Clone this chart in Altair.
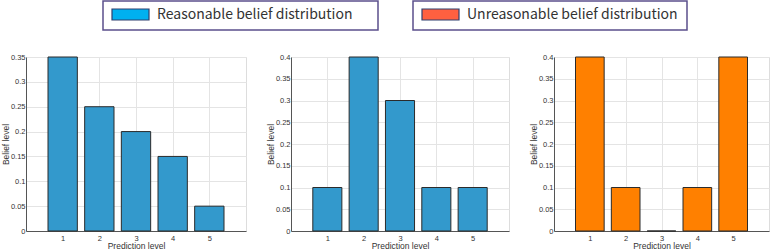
import altair as alt
import pandas as pd

# Prediction levels on the x axis
levels = [1, 2, 3, 4, 5]

# Belief levels for each of the three distributions
reasonable_a = [0.35, 0.25, 0.20, 0.15, 0.05]
reasonable_b = [0.10, 0.40, 0.30, 0.10, 0.10]
unreasonable = [0.40, 0.10, 0.00, 0.10, 0.40]

# Legend entries
legend_labels = ["Reasonable belief distribution", "Unreasonable belief distribution"]

BLUE = "#3399cc"
ORANGE = "#ff8000"
FONT = "Liberation Sans"

AXIS_STYLE = dict(
    labelFontSize=7.5,
    titleFontSize=8.5,
    titleFontWeight="normal",
    labelColor="#333333",
    titleColor="#333333",
    ticks=False,
    grid=True,
    gridColor="#e4e4e4",
    domainColor="#555555",
    minExtent=0,
    labelExpr="datum.value + ''",
)


def panel(values, color, ymax, width, height):
    df = pd.DataFrame({"level": levels, "belief": values})
    base = alt.Chart(df).transform_calculate(
        lo="datum.level - 0.4", hi="datum.level + 0.4"
    )
    x = alt.X(
        "lo:Q",
        scale=alt.Scale(domain=[0, 6], nice=False, zero=False),
        axis=alt.Axis(
            values=levels, title="Prediction level",
            labelPadding=3, titlePadding=0, **AXIS_STYLE
        ),
    )
    y = alt.Y(
        "belief:Q",
        scale=alt.Scale(domain=[0, ymax], nice=False),
        axis=alt.Axis(
            values=[round(v * 0.05, 2) for v in range(int(round(ymax / 0.05)) + 1)],
            title="Belief level", labelPadding=1, titlePadding=0, **AXIS_STYLE
        ),
    )
    return (
        base.mark_bar(fill=color, stroke="#2b2b2b", strokeWidth=1)
        .encode(x=x, x2="hi:Q", y=y, y2=alt.datum(0))
        .properties(width=width, height=height)
    )


# Boxed legend strip along the top (offsets relative to the first plot's left edge)
legend_df = pd.DataFrame({"label": legend_labels})
box_specs = [
    (legend_labels[0], 77, 352, "#00b0f0"),
    (legend_labels[1], 387, 661, "#ff6040"),
]
legend_layers = []
for label, left, right, swatch in box_specs:
    one = alt.Chart(legend_df).transform_filter(alt.datum.label == label)
    legend_layers.append(
        one.mark_rect(fill="white", stroke="#5b4f8c", strokeWidth=1.5).encode(
            x=alt.value(left), x2=alt.value(right), y=alt.value(1), y2=alt.value(30)
        )
    )
    legend_layers.append(
        one.mark_rect(fill=swatch, stroke="#2f3f6f", strokeWidth=1.2).encode(
            x=alt.value(left + 9), x2=alt.value(left + 46), y=alt.value(9), y2=alt.value(20)
        )
    )
    legend_layers.append(
        one.mark_text(
            align="left", baseline="middle", fontSize=14, font="Noto Sans CJK SC",
            color="#333333",
        ).encode(x=alt.value(left + 54), y=alt.value(15), text="label:N")
    )

legend = alt.layer(*legend_layers).properties(
    width=700, height=45, view=alt.ViewConfig(strokeOpacity=0)
)

panels = alt.hconcat(
    panel(reasonable_a, BLUE, 0.35, 220, 174),
    panel(reasonable_b, BLUE, 0.40, 218, 174),
    panel(unreasonable, ORANGE, 0.40, 215, 174),
    spacing=45,
    bounds="flush",
)

chart = (
    alt.vconcat(legend, panels, spacing=12, bounds="flush")
    .properties(padding=0, background="white")
    .configure_view(stroke="#8c8c8c", strokeWidth=1)
    .configure(font=FONT)
)

chart.save("out.html", embed_options={"renderer": "svg", "actions": False})
